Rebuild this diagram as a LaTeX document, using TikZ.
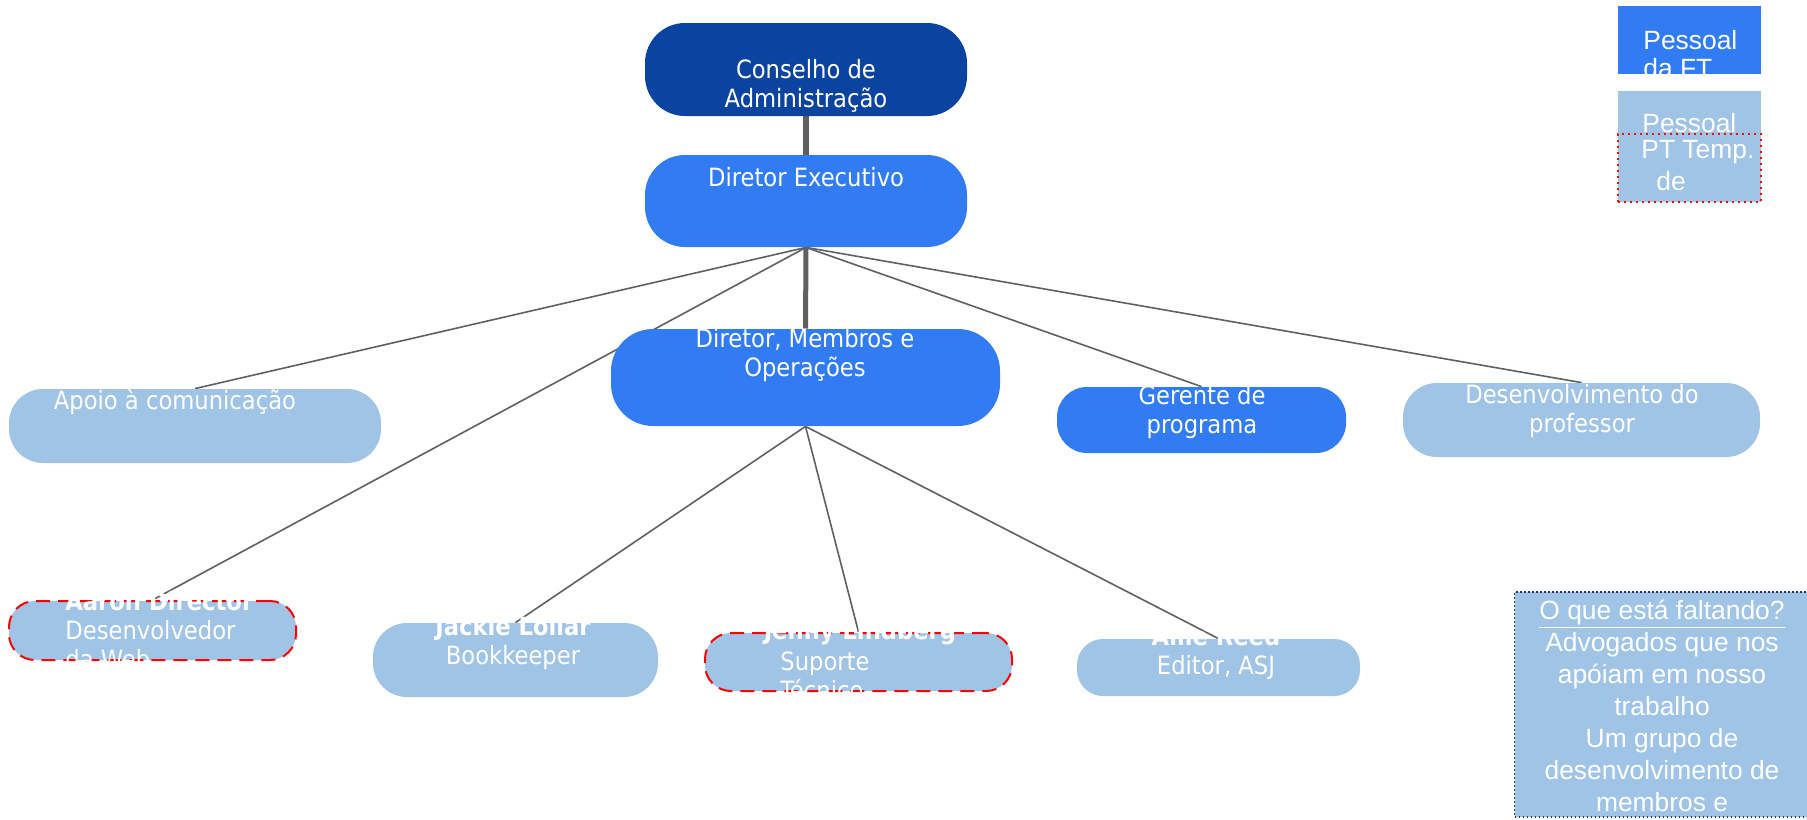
\documentclass[tikz,border=0pt]{standalone}
\usepackage{fontspec}
\setmainfont{DejaVu Sans Condensed}
\newfontfamily\arialfont{Liberation Sans}
\usetikzlibrary{positioning,backgrounds}
\definecolor{darkblue}{HTML}{0B44A0}
\definecolor{midblue}{HTML}{317CF2}
\definecolor{lightblue}{HTML}{A0C4E6}
\definecolor{linegray}{HTML}{606060}
\definecolor{dotnavy}{HTML}{2A3550}

\begin{document}
\begin{tikzpicture}[x=0.5pt,y=-0.5pt,
    pill/.style={rectangle,rounded corners=#1,inner sep=0pt},
    pill/.default=14pt,
    vacant/.style={draw=red,line width=1pt,dash pattern=on 7pt off 4pt},
    lbl/.style={text=white,font=\fontsize{12.6}{14.5}\selectfont,align=center,inner sep=0pt},
    keytxt/.style={text=white,font=\arialfont\fontsize{13.2}{16}\selectfont,inner sep=0pt},
    link/.style={draw=linegray,line width=0.8pt},
    trunk/.style={draw=linegray,line width=3pt}]
        \useasboundingbox (0,0) rectangle (1807,819);
        % Boxes
        \node[pill=20pt,fill=darkblue,minimum width=161pt,minimum height=46.5pt] (board) at (806,69.5) {};
        \node[pill=20pt,fill=midblue,minimum width=161pt,minimum height=46pt] (ceo) at (806,201) {};
        \node[pill=21pt,fill=midblue,minimum width=194.5pt,minimum height=48.5pt] (ops) at (805.5,377.5) {};
        \node[pill=17pt,fill=lightblue,minimum width=186pt,minimum height=37pt] (comms) at (195,426) {};
        \node[pill=15pt,fill=midblue,minimum width=144.5pt,minimum height=33pt] (progmgr) at (1201.5,420) {};
        \node[pill=17pt,fill=lightblue,minimum width=178.5pt,minimum height=37pt] (profdev) at (1581.5,420) {};
        \node[pill=13pt,fill=lightblue,vacant,minimum width=143.5pt,minimum height=29.5pt] (webdev) at (152.5,630.5) {};
        \node[pill=17pt,fill=lightblue,minimum width=142.5pt,minimum height=37pt] (books) at (515.5,660) {};
        \node[pill=13pt,fill=lightblue,vacant,minimum width=153.5pt,minimum height=29pt] (techsup) at (858.5,662) {};
        \node[pill=13pt,fill=lightblue,minimum width=141.5pt,minimum height=28.5pt] (editor) at (1218.5,667.5) {};
        % Key
        \node[fill=midblue,minimum width=71.5pt,minimum height=34pt,inner sep=0pt] (keyft) at (1689.5,40) {};
        \node[fill=lightblue,minimum width=71.5pt,minimum height=55.5pt,inner sep=0pt] (keypt) at (1689.5,146.5) {};
        \node[draw=red,line width=1.2pt,dash pattern=on 1.2pt off 1.8pt,minimum width=71.5pt,minimum height=34pt,inner sep=0pt] (keytemp) at (1689.5,168) {};
        \node[fill=lightblue,draw=dotnavy,line width=0.9pt,dash pattern=on 0.9pt off 1.1pt,minimum width=146.5pt,minimum height=112.5pt,inner sep=0pt] (missing) at (1661,704.5) {};
        % Lines
        \begin{scope}[on background layer]
        \draw[trunk] (board.south) -- (ceo.north);
        \draw[trunk,line width=2.5pt] (ceo.south) -- (ops.north);
        \draw[link] (ceo.south) -- (comms.north);
        \draw[link] (ceo.south) -- (webdev.north);
        \draw[link] (ceo.south) -- (progmgr.north);
        \draw[link] (ceo.south) -- (profdev.north);
        \draw[link] (ops.south) -- (books.north);
        \draw[link] (ops.south) -- (techsup.north);
        \draw[link] (ops.south) -- (editor.north);
        \end{scope}
        % Texts
        \node[lbl] (t_board) at (806,86) {Conselho de\\Administração};
        \node[lbl] (t_ceo) at (806,177) {Diretor Executivo};
        \node[lbl] (t_ops) at (805,355) {Diretor, Membros e\\Operações};
        \node[lbl] (t_comms) at (175,402) {Apoio à comunicação};
        \node[lbl] (t_progmgr) at (1202,412) {Gerente de\\programa};
        \node[lbl] (t_profdev) at (1582,411.5) {Desenvolvimento do\\professor};
        \node[lbl,align=left,anchor=west] (t_webdev) at (65,630) {\textbf{Aaron Director}\\Desenvolvedor\\da Web};
        \node[lbl] (t_books) at (513,643.5) {\textbf{Jackie Lollar}\\Bookkeeper};
        \node[lbl] (t_techname) at (860,633) {\textbf{Jenny Lindberg}};
        \node[lbl,align=left,anchor=west] (t_techsup) at (780,676) {Suporte\\Técnico};
        \node[lbl] (t_editor) at (1216,652.5) {\textbf{Allie Reed}\\Editor, ASJ};
        \node[keytxt,align=left,anchor=west,font=\arialfont\fontsize{13.2}{14}\selectfont] (t_keyft) at (1643,54) {Pessoal\\da FT};
        \node[keytxt,anchor=west] (t_keypt) at (1642,123) {Pessoal};
        \node[keytxt,align=left,anchor=west] (t_keytemp) at (1641,166) {PT Temp.\\\hspace{7.5pt}de};
        \node[keytxt,align=center] (t_missing) at (1662,706) {\underline{O que está faltando?}\\Advogados que nos\\apóiam em nosso\\trabalho\\Um grupo de\\desenvolvimento de\\membros e};
\end{tikzpicture}
\end{document}
